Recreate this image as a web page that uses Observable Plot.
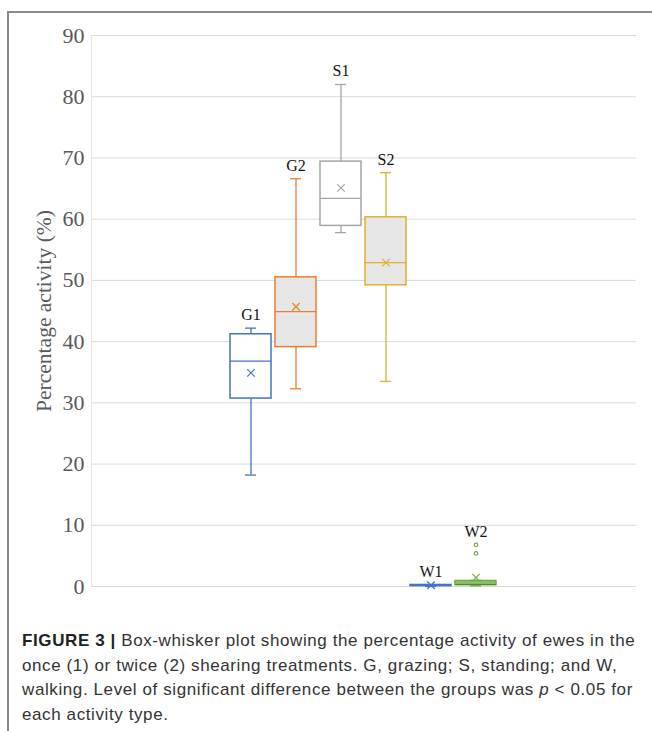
<!DOCTYPE html>
<html>
<head>
<meta charset="utf-8">
<script src="https://cdn.jsdelivr.net/npm/d3@7"></script>
<script src="https://cdn.jsdelivr.net/npm/@observablehq/plot@0.6"></script>
<style>
  body { margin: 0; background: #fff; }
  #wrap { position: relative; width: 652px; height: 731px; overflow: hidden; background: #fff; }
  #border { position: absolute; left: 7px; top: 11px; right: -10px; bottom: -10px;
            border-left: 2px solid #8a8a8a; border-top: 2px solid #8a8a8a; }
  #chart { position: absolute; left: 0; top: 0; }
  #caption { position: absolute; left: 22px; top: 629px; width: 628px;
             font-family: "Liberation Sans", Arial, sans-serif; font-size: 17px;
             letter-spacing: 0.6px; line-height: 24.5px; color: #333; white-space: nowrap; }
  #caption b { font-weight: bold; color: #222; }
</style>
</head>
<body>
<div id="wrap">
  <div id="border"></div>
  <div id="chart"></div>
  <div id="caption">
    <b>FIGURE 3 |</b> Box-whisker plot showing the percentage activity of ewes in the<br>
    once (1) or twice (2) shearing treatments. G, grazing; S, standing; and W,<br>
    walking. Level of significant difference between the groups was <i>p</i> &lt; 0.05 for<br>
    each activity type.
  </div>
</div>
<script>
// ---- data ----
const groups  = ["G1", "G2", "S1", "S2", "W1", "W2"];
const mins    = [18.2, 32.3, 57.8, 33.5, 0.0, 0.1];
const q1s     = [30.7, 39.1, 58.9, 49.2, 0.1, 0.25];
const medians = [36.8, 44.9, 63.4, 52.9, 0.15, 0.3];
const q3s     = [41.2, 50.5, 69.4, 60.3, 0.25, 0.9];
const maxs    = [42.2, 66.6, 82.0, 67.6, 0.3, 1.0];
const means   = [34.9, 45.7, 65.1, 52.9, 0.2, 1.45];
const outlierGroups = ["W2", "W2"];
const outlierValues = [6.8, 5.4];
const strokes = ["#4472C4", "#ED7D31", "#A5A5A5", "#E0B02C", "#4472C4", "#70AD47"];
const fills   = ["#ffffff", "#e6e6e6", "#ffffff", "#e6e6e6", "#ffffff", "#8fbf6a"];
const medianStrokes = ["#4472C4", "#ED7D31", "#A5A5A5", "#E0B02C", "#4472C4", "#4f8a2e"];
const yTicks  = [0, 10, 20, 30, 40, 50, 60, 70, 80, 90];
const yLabel  = "Percentage activity (%)";

const rows = groups.map((g, i) => ({
  group: g, min: mins[i], q1: q1s[i], median: medians[i], q3: q3s[i], max: maxs[i], mean: means[i],
  stroke: strokes[i], fill: fills[i], medianStroke: medianStrokes[i],
  top: Math.max(maxs[i], ...outlierValues.filter((v, j) => outlierGroups[j] === g))
}));
const outliers = outlierGroups.map((g, j) => ({group: g, value: outlierValues[j], stroke: strokes[groups.indexOf(g)]}));

const chart = Plot.plot({
  width: 652,
  height: 605,
  marginTop: 35,
  marginBottom: 19,
  marginLeft: 91,
  marginRight: 16,
  style: {fontFamily: "'Liberation Serif', 'Times New Roman', serif", fontSize: "22px", background: "transparent"},
  x: {type: "band", domain: groups, range: [225.5, 499.5], padding: 0, axis: null},
  y: {domain: [0, 90], axis: null},
  marks: [
    Plot.ruleY(yTicks, {stroke: "#d9d9d9", strokeWidth: 1}),
    Plot.frame({anchor: "left", stroke: "#e6e6e6"}),
    Plot.axisY(yTicks, {tickSize: 0, tickPadding: 7, color: "#595959", fontSize: 22, label: null}),
    Plot.text([yLabel], {frameAnchor: "left", textAnchor: "middle", rotate: -90, dx: -47, fontSize: 21.5, fill: "#595959"}),
    // whiskers
    Plot.ruleX(rows, {x: "group", y1: "q3", y2: "max", stroke: "stroke", strokeWidth: 1.3}),
    Plot.ruleX(rows, {x: "group", y1: "min", y2: "q1", stroke: "stroke", strokeWidth: 1.3}),
    Plot.tickY(rows, {x: "group", y: "max", stroke: "stroke", strokeWidth: 1.3, insetLeft: 17, insetRight: 17}),
    Plot.tickY(rows, {x: "group", y: "min", stroke: "stroke", strokeWidth: 1.3, insetLeft: 17, insetRight: 17}),
    // boxes
    Plot.barY(rows, {x: "group", y1: "q1", y2: "q3", fill: "fill", stroke: "stroke", strokeWidth: 1.5, insetLeft: 2, insetRight: 2}),
    Plot.tickY(rows, {x: "group", y: "median", stroke: "medianStroke", strokeWidth: 1.3, insetLeft: 2, insetRight: 2}),
    // means
    Plot.dot(rows, {x: "group", y: "mean", symbol: "times", r: 3.5, stroke: "stroke", strokeWidth: 1.2}),
    // outliers
    Plot.dot(outliers, {x: "group", y: "value", r: 1.8, stroke: "stroke", fill: "white", strokeWidth: 1.2}),
    // labels
    Plot.text(rows, {x: "group", y: "top", text: "group", dy: -8, lineAnchor: "bottom", fontSize: 16, fill: "#111"})
  ]
});
document.getElementById("chart").appendChild(chart);
</script>
</body>
</html>
